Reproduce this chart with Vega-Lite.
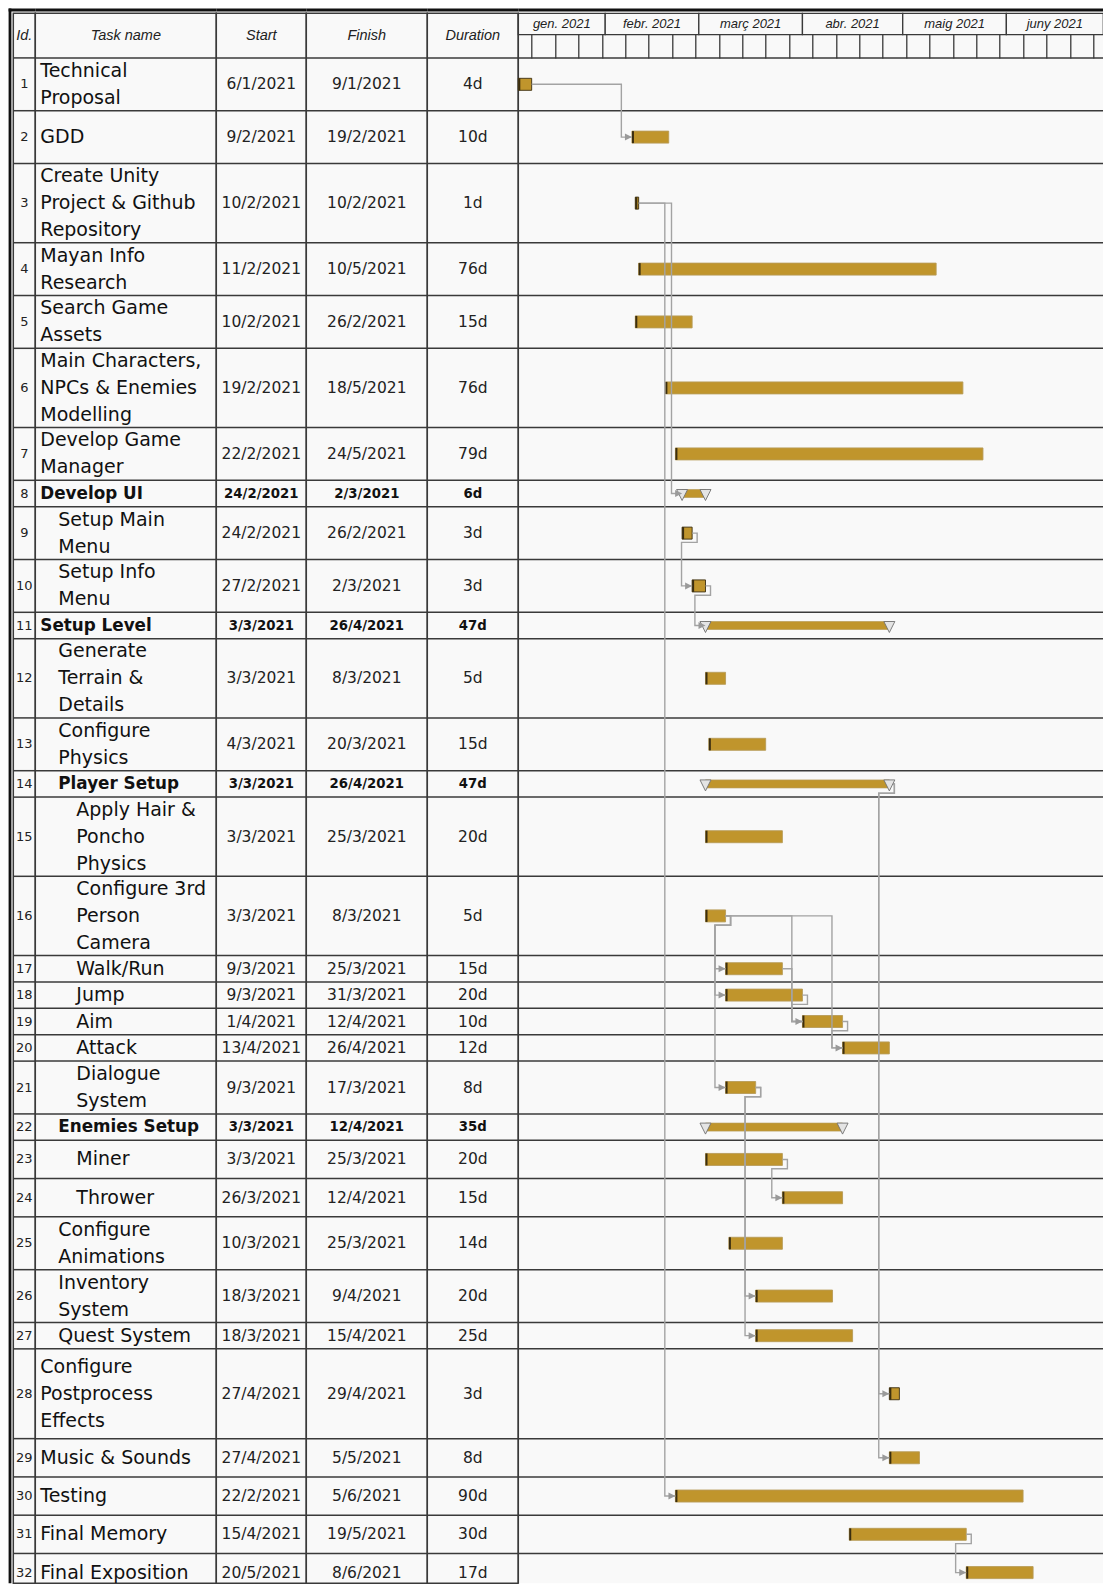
{
  "$schema": "https://vega.github.io/schema/vega-lite/v6.json",
  "background": "white",
  "padding": {"left": 7.3, "top": 7.3, "right": 0, "bottom": 0},
  "spacing": 0,
  "bounds": "flush",
  "config": {"view": {"stroke": "#3a3a3a", "strokeWidth": 1.5, "fill": "#f9f9f9"}, "scale": {"continuousPadding": 0}},
  "datasets": {
    "tasks": [
      {"id": 1, "name": "Technical\nProposal", "level": 0, "summary": false, "start": "2021-01-06", "finish": "2021-01-09", "dur": 4, "pred": null, "lines": 2},
      {"id": 2, "name": "GDD", "level": 0, "summary": false, "start": "2021-02-09", "finish": "2021-02-19", "dur": 10, "pred": "1", "lines": 2},
      {"id": 3, "name": "Create Unity\nProject & Github\nRepository", "level": 0, "summary": false, "start": "2021-02-10", "finish": "2021-02-10", "dur": 1, "pred": null, "lines": 3},
      {"id": 4, "name": "Mayan Info\nResearch", "level": 0, "summary": false, "start": "2021-02-11", "finish": "2021-05-10", "dur": 76, "pred": null, "lines": 2},
      {"id": 5, "name": "Search Game\nAssets", "level": 0, "summary": false, "start": "2021-02-10", "finish": "2021-02-26", "dur": 15, "pred": null, "lines": 2},
      {"id": 6, "name": "Main Characters,\nNPCs & Enemies\nModelling", "level": 0, "summary": false, "start": "2021-02-19", "finish": "2021-05-18", "dur": 76, "pred": null, "lines": 3},
      {"id": 7, "name": "Develop Game\nManager", "level": 0, "summary": false, "start": "2021-02-22", "finish": "2021-05-24", "dur": 79, "pred": null, "lines": 2},
      {"id": 8, "name": "Develop UI", "level": 0, "summary": true, "start": "2021-02-24", "finish": "2021-03-02", "dur": 6, "pred": "3", "lines": 1},
      {"id": 9, "name": "Setup Main\nMenu", "level": 1, "summary": false, "start": "2021-02-24", "finish": "2021-02-26", "dur": 3, "pred": null, "lines": 2},
      {"id": 10, "name": "Setup Info\nMenu", "level": 1, "summary": false, "start": "2021-02-27", "finish": "2021-03-02", "dur": 3, "pred": "9", "lines": 2},
      {"id": 11, "name": "Setup Level", "level": 0, "summary": true, "start": "2021-03-03", "finish": "2021-04-26", "dur": 47, "pred": "10", "lines": 1},
      {"id": 12, "name": "Generate\nTerrain &\nDetails", "level": 1, "summary": false, "start": "2021-03-03", "finish": "2021-03-08", "dur": 5, "pred": null, "lines": 3},
      {"id": 13, "name": "Configure\nPhysics", "level": 1, "summary": false, "start": "2021-03-04", "finish": "2021-03-20", "dur": 15, "pred": null, "lines": 2},
      {"id": 14, "name": "Player Setup", "level": 1, "summary": true, "start": "2021-03-03", "finish": "2021-04-26", "dur": 47, "pred": null, "lines": 1},
      {"id": 15, "name": "Apply Hair &\nPoncho\nPhysics", "level": 2, "summary": false, "start": "2021-03-03", "finish": "2021-03-25", "dur": 20, "pred": null, "lines": 3},
      {"id": 16, "name": "Configure 3rd\nPerson\nCamera", "level": 2, "summary": false, "start": "2021-03-03", "finish": "2021-03-08", "dur": 5, "pred": null, "lines": 3},
      {"id": 17, "name": "Walk/Run", "level": 2, "summary": false, "start": "2021-03-09", "finish": "2021-03-25", "dur": 15, "pred": "16", "lines": 1},
      {"id": 18, "name": "Jump", "level": 2, "summary": false, "start": "2021-03-09", "finish": "2021-03-31", "dur": 20, "pred": "16", "lines": 1},
      {"id": 19, "name": "Aim", "level": 2, "summary": false, "start": "2021-04-01", "finish": "2021-04-12", "dur": 10, "pred": "16,17,18", "lines": 1},
      {"id": 20, "name": "Attack", "level": 2, "summary": false, "start": "2021-04-13", "finish": "2021-04-26", "dur": 12, "pred": "16,19", "lines": 1},
      {"id": 21, "name": "Dialogue\nSystem", "level": 2, "summary": false, "start": "2021-03-09", "finish": "2021-03-17", "dur": 8, "pred": "16", "lines": 2},
      {"id": 22, "name": "Enemies Setup", "level": 1, "summary": true, "start": "2021-03-03", "finish": "2021-04-12", "dur": 35, "pred": null, "lines": 1},
      {"id": 23, "name": "Miner", "level": 2, "summary": false, "start": "2021-03-03", "finish": "2021-03-25", "dur": 20, "pred": null, "lines": 1.45},
      {"id": 24, "name": "Thrower", "level": 2, "summary": false, "start": "2021-03-26", "finish": "2021-04-12", "dur": 15, "pred": "23", "lines": 1.45},
      {"id": 25, "name": "Configure\nAnimations", "level": 1, "summary": false, "start": "2021-03-10", "finish": "2021-03-25", "dur": 14, "pred": null, "lines": 2},
      {"id": 26, "name": "Inventory\nSystem", "level": 1, "summary": false, "start": "2021-03-18", "finish": "2021-04-09", "dur": 20, "pred": "21", "lines": 2},
      {"id": 27, "name": "Quest System", "level": 1, "summary": false, "start": "2021-03-18", "finish": "2021-04-15", "dur": 25, "pred": "21", "lines": 1},
      {"id": 28, "name": "Configure\nPostprocess\nEffects", "level": 0, "summary": false, "start": "2021-04-27", "finish": "2021-04-29", "dur": 3, "pred": "14", "lines": 3.4},
      {"id": 29, "name": "Music & Sounds", "level": 0, "summary": false, "start": "2021-04-27", "finish": "2021-05-05", "dur": 8, "pred": "14", "lines": 1.45},
      {"id": 30, "name": "Testing", "level": 0, "summary": false, "start": "2021-02-22", "finish": "2021-06-05", "dur": 90, "pred": "3", "lines": 1.45},
      {"id": 31, "name": "Final Memory", "level": 0, "summary": false, "start": "2021-04-15", "finish": "2021-05-19", "dur": 30, "pred": null, "lines": 1.45},
      {"id": 32, "name": "Final Exposition", "level": 0, "summary": false, "start": "2021-05-20", "finish": "2021-06-08", "dur": 17, "pred": "31", "lines": 1.45}
    ],
    "months": [
      {"label": "gen. 2021", "start": "2021-01-01", "end": "2021-02-01"},
      {"label": "febr. 2021", "start": "2021-02-01", "end": "2021-03-01"},
      {"label": "març 2021", "start": "2021-03-01", "end": "2021-04-01"},
      {"label": "abr. 2021", "start": "2021-04-01", "end": "2021-05-01"},
      {"label": "maig 2021", "start": "2021-05-01", "end": "2021-06-01"},
      {"label": "juny 2021", "start": "2021-06-01", "end": "2021-07-01"}
    ]
  },
  "data": {"name": "tasks"},
  "transform": [
    {"window": [{"op": "sum", "field": "lines", "as": "cum"}], "sort": [{"field": "id"}], "frame": [null, 0]},
    {"calculate": "datum.cum - datum.lines", "as": "y0"},
    {"calculate": "datum.cum - datum.lines / 2", "as": "ym"},
    {"calculate": "toDate(datum.start)", "as": "s"},
    {"calculate": "toDate(datum.finish) + 864e5", "as": "e"},
    {"calculate": "utcFormat(toDate(datum.start), '%-d/%-m/%Y')", "as": "startTxt"},
    {"calculate": "utcFormat(toDate(datum.finish), '%-d/%-m/%Y')", "as": "finishTxt"},
    {"calculate": "datum.dur + 'd'", "as": "durTxt"}
  ],
  "hconcat": [
    {
      "width": 22, "height": 1570,
      "layer": [
        {"mark": {"type": "rule", "color": "#3a3a3a", "strokeWidth": 1.5},
         "encoding": {"y": {"field": "y0", "type": "quantitative", "scale": {"domain": [-1.69, 57.78], "reverse": true, "nice": false, "zero": false}, "axis": null}}},
        {"mark": {"type": "text", "font": "DejaVu Sans", "fontSize": 13, "color": "#222", "baseline": "middle"},
         "encoding": {"y": {"field": "ym", "type": "quantitative", "scale": {"domain": [-1.69, 57.78], "reverse": true, "nice": false, "zero": false}, "axis": null}, "text": {"field": "id", "type": "nominal"}}},
        {"data": {"values": [{"label": "Id."}]},
         "mark": {"type": "text", "font": "Liberation Sans", "fontStyle": "italic", "fontSize": 14.5, "color": "#222", "baseline": "middle"},
         "encoding": {"y": {"datum": -0.845, "type": "quantitative", "scale": {"domain": [-1.69, 57.78], "reverse": true, "nice": false, "zero": false}, "axis": null}, "text": {"field": "label", "type": "nominal"}}},
        {"data": {"values": [{}]},
         "mark": {"type": "rect", "color": "#111", "xOffset": -4.7, "x2Offset": -1.9, "yOffset": -4.7},
         "encoding": {"x": {"datum": 0, "type": "quantitative", "scale": {"domain": [0, 1], "nice": false, "zero": false}, "axis": null}, "x2": {"datum": 0},
                      "y": {"datum": -1.69, "type": "quantitative", "scale": {"domain": [-1.69, 57.78], "reverse": true, "nice": false, "zero": false}, "axis": null}, "y2": {"datum": 57.78}}},
        {"data": {"values": [{}]},
         "mark": {"type": "rect", "color": "#111", "xOffset": -4.7, "yOffset": -4.7, "y2Offset": -1.9},
         "encoding": {"x": {"datum": 0, "type": "quantitative", "scale": {"domain": [0, 1], "nice": false, "zero": false}, "axis": null}, "x2": {"datum": 1},
                      "y": {"datum": -1.69, "type": "quantitative", "scale": {"domain": [-1.69, 57.78], "reverse": true, "nice": false, "zero": false}, "axis": null}, "y2": {"datum": -1.69}}}
      ]
    },
    {
      "width": 181, "height": 1570,
      "layer": [
        {"mark": {"type": "rule", "color": "#3a3a3a", "strokeWidth": 1.5},
         "encoding": {"y": {"field": "y0", "type": "quantitative", "scale": {"domain": [-1.69, 57.78], "reverse": true, "nice": false, "zero": false}, "axis": null}}},
        {"transform": [{"filter": "!datum.summary"},
                       {"calculate": "length(split(datum.name, '\\n'))", "as": "nl"},
                       {"calculate": "datum.ym - (datum.nl - 1) * 27 / 26.4 / 2", "as": "ty"}],
         "mark": {"type": "text", "font": "DejaVu Sans", "fontSize": 19, "color": "#111", "align": "left", "baseline": "middle", "dx": 5, "lineBreak": "\n", "lineHeight": 27},
         "encoding": {"x": {"field": "level", "type": "quantitative", "scale": {"domain": [0, 10.056], "nice": false, "zero": false}, "axis": null},
                      "y": {"field": "ty", "type": "quantitative", "scale": {"domain": [-1.69, 57.78], "reverse": true, "nice": false, "zero": false}, "axis": null},
                      "text": {"field": "name", "type": "nominal"}}},
        {"transform": [{"filter": "datum.summary"}],
         "mark": {"type": "text", "font": "DejaVu Sans", "fontSize": 16.8, "fontWeight": "bold", "color": "#111", "align": "left", "baseline": "middle", "dx": 5},
         "encoding": {"x": {"field": "level", "type": "quantitative", "scale": {"domain": [0, 10.056], "nice": false, "zero": false}, "axis": null},
                      "y": {"field": "ym", "type": "quantitative", "scale": {"domain": [-1.69, 57.78], "reverse": true, "nice": false, "zero": false}, "axis": null},
                      "text": {"field": "name", "type": "nominal"}}},
        {"data": {"values": [{"label": "Task name"}]},
         "mark": {"type": "text", "font": "Liberation Sans", "fontStyle": "italic", "fontSize": 14.5, "color": "#222", "baseline": "middle"},
         "encoding": {"y": {"datum": -0.845, "type": "quantitative", "scale": {"domain": [-1.69, 57.78], "reverse": true, "nice": false, "zero": false}, "axis": null}, "text": {"field": "label", "type": "nominal"}}},
        {"data": {"values": [{}]},
         "mark": {"type": "rect", "color": "#111", "yOffset": -4.7, "y2Offset": -1.9},
         "encoding": {"y": {"datum": -1.69, "type": "quantitative", "scale": {"domain": [-1.69, 57.78], "reverse": true, "nice": false, "zero": false}, "axis": null}, "y2": {"datum": -1.69}}}
      ]
    },
    {
      "width": 90, "height": 1570,
      "layer": [
        {"mark": {"type": "rule", "color": "#3a3a3a", "strokeWidth": 1.5},
         "encoding": {"y": {"field": "y0", "type": "quantitative", "scale": {"domain": [-1.69, 57.78], "reverse": true, "nice": false, "zero": false}, "axis": null}}},
        {"transform": [{"filter": "!datum.summary"}],
         "mark": {"type": "text", "font": "DejaVu Sans", "fontSize": 15.5, "color": "#222", "baseline": "middle"},
         "encoding": {"y": {"field": "ym", "type": "quantitative", "scale": {"domain": [-1.69, 57.78], "reverse": true, "nice": false, "zero": false}, "axis": null}, "text": {"field": "startTxt", "type": "nominal"}}},
        {"transform": [{"filter": "datum.summary"}],
         "mark": {"type": "text", "font": "DejaVu Sans", "fontSize": 13.3, "fontWeight": "bold", "color": "#111", "baseline": "middle"},
         "encoding": {"y": {"field": "ym", "type": "quantitative", "scale": {"domain": [-1.69, 57.78], "reverse": true, "nice": false, "zero": false}, "axis": null}, "text": {"field": "startTxt", "type": "nominal"}}},
        {"data": {"values": [{"label": "Start"}]},
         "mark": {"type": "text", "font": "Liberation Sans", "fontStyle": "italic", "fontSize": 14.5, "color": "#222", "baseline": "middle"},
         "encoding": {"y": {"datum": -0.845, "type": "quantitative", "scale": {"domain": [-1.69, 57.78], "reverse": true, "nice": false, "zero": false}, "axis": null}, "text": {"field": "label", "type": "nominal"}}},
        {"data": {"values": [{}]},
         "mark": {"type": "rect", "color": "#111", "yOffset": -4.7, "y2Offset": -1.9},
         "encoding": {"y": {"datum": -1.69, "type": "quantitative", "scale": {"domain": [-1.69, 57.78], "reverse": true, "nice": false, "zero": false}, "axis": null}, "y2": {"datum": -1.69}}}
      ]
    },
    {
      "width": 121, "height": 1570,
      "layer": [
        {"mark": {"type": "rule", "color": "#3a3a3a", "strokeWidth": 1.5},
         "encoding": {"y": {"field": "y0", "type": "quantitative", "scale": {"domain": [-1.69, 57.78], "reverse": true, "nice": false, "zero": false}, "axis": null}}},
        {"transform": [{"filter": "!datum.summary"}],
         "mark": {"type": "text", "font": "DejaVu Sans", "fontSize": 15.5, "color": "#222", "baseline": "middle"},
         "encoding": {"y": {"field": "ym", "type": "quantitative", "scale": {"domain": [-1.69, 57.78], "reverse": true, "nice": false, "zero": false}, "axis": null}, "text": {"field": "finishTxt", "type": "nominal"}}},
        {"transform": [{"filter": "datum.summary"}],
         "mark": {"type": "text", "font": "DejaVu Sans", "fontSize": 13.3, "fontWeight": "bold", "color": "#111", "baseline": "middle"},
         "encoding": {"y": {"field": "ym", "type": "quantitative", "scale": {"domain": [-1.69, 57.78], "reverse": true, "nice": false, "zero": false}, "axis": null}, "text": {"field": "finishTxt", "type": "nominal"}}},
        {"data": {"values": [{"label": "Finish"}]},
         "mark": {"type": "text", "font": "Liberation Sans", "fontStyle": "italic", "fontSize": 14.5, "color": "#222", "baseline": "middle"},
         "encoding": {"y": {"datum": -0.845, "type": "quantitative", "scale": {"domain": [-1.69, 57.78], "reverse": true, "nice": false, "zero": false}, "axis": null}, "text": {"field": "label", "type": "nominal"}}},
        {"data": {"values": [{}]},
         "mark": {"type": "rect", "color": "#111", "yOffset": -4.7, "y2Offset": -1.9},
         "encoding": {"y": {"datum": -1.69, "type": "quantitative", "scale": {"domain": [-1.69, 57.78], "reverse": true, "nice": false, "zero": false}, "axis": null}, "y2": {"datum": -1.69}}}
      ]
    },
    {
      "width": 91, "height": 1570,
      "layer": [
        {"mark": {"type": "rule", "color": "#3a3a3a", "strokeWidth": 1.5},
         "encoding": {"y": {"field": "y0", "type": "quantitative", "scale": {"domain": [-1.69, 57.78], "reverse": true, "nice": false, "zero": false}, "axis": null}}},
        {"transform": [{"filter": "!datum.summary"}],
         "mark": {"type": "text", "font": "DejaVu Sans", "fontSize": 15.5, "color": "#222", "baseline": "middle"},
         "encoding": {"y": {"field": "ym", "type": "quantitative", "scale": {"domain": [-1.69, 57.78], "reverse": true, "nice": false, "zero": false}, "axis": null}, "text": {"field": "durTxt", "type": "nominal"}}},
        {"transform": [{"filter": "datum.summary"}],
         "mark": {"type": "text", "font": "DejaVu Sans", "fontSize": 13.3, "fontWeight": "bold", "color": "#111", "baseline": "middle"},
         "encoding": {"y": {"field": "ym", "type": "quantitative", "scale": {"domain": [-1.69, 57.78], "reverse": true, "nice": false, "zero": false}, "axis": null}, "text": {"field": "durTxt", "type": "nominal"}}},
        {"data": {"values": [{"label": "Duration"}]},
         "mark": {"type": "text", "font": "Liberation Sans", "fontStyle": "italic", "fontSize": 14.5, "color": "#222", "baseline": "middle"},
         "encoding": {"y": {"datum": -0.845, "type": "quantitative", "scale": {"domain": [-1.69, 57.78], "reverse": true, "nice": false, "zero": false}, "axis": null}, "text": {"field": "label", "type": "nominal"}}},
        {"data": {"values": [{}]},
         "mark": {"type": "rect", "color": "#111", "yOffset": -4.7, "y2Offset": -1.9},
         "encoding": {"y": {"datum": -1.69, "type": "quantitative", "scale": {"domain": [-1.69, 57.78], "reverse": true, "nice": false, "zero": false}, "axis": null}, "y2": {"datum": -1.69}}}
      ]
    },
    {
      "width": 585, "height": 1570,
      "view": {"stroke": null, "fill": "#f9f9f9"},
      "layer": [
        {"data": {"name": "months"},
         "transform": [
           {"calculate": "max(toDate(datum.start), utc(2021, 0, 6))", "as": "ms"},
           {"calculate": "min(toDate(datum.end), utc(2021, 5, 30))", "as": "me"},
           {"calculate": "(datum.ms + datum.me) / 2", "as": "mid"}
         ],
         "mark": {"type": "rect", "fill": "#f9f9f9", "stroke": "#3a3a3a", "strokeWidth": 1.3},
         "encoding": {
           "x": {"field": "ms", "type": "temporal", "scale": {"type": "utc", "nice": false, "padding": 0, "domain": [{"year": 2021, "month": 1, "date": 6, "utc": true}, {"year": 2021, "month": 6, "date": 30, "utc": true}]},
                 "axis": {"orient": "bottom", "offset": -1548.7, "domain": false, "labels": false, "ticks": true, "tickSize": 23.3, "tickColor": "#3a3a3a", "tickWidth": 1.3, "tickCount": {"interval": "week"}, "grid": false, "title": null}},
           "x2": {"field": "me"},
           "y": {"datum": -1.69, "type": "quantitative", "scale": {"domain": [-1.69, 57.78], "reverse": true, "nice": false, "zero": false, "padding": 0}, "axis": null},
           "y2": {"datum": -0.883}}},
        {"data": {"name": "months"},
         "transform": [
           {"calculate": "max(toDate(datum.start), utc(2021, 0, 6))", "as": "ms"},
           {"calculate": "min(toDate(datum.end), utc(2021, 5, 30))", "as": "me"},
           {"calculate": "(datum.ms + datum.me) / 2", "as": "mid"}
         ],
         "mark": {"type": "text", "font": "Liberation Sans", "fontStyle": "italic", "fontSize": 13, "color": "#222", "baseline": "middle"},
         "encoding": {
           "x": {"field": "mid", "type": "temporal", "scale": {"type": "utc", "nice": false, "padding": 0, "domain": [{"year": 2021, "month": 1, "date": 6, "utc": true}, {"year": 2021, "month": 6, "date": 30, "utc": true}]}},
           "y": {"datum": -1.2865, "type": "quantitative", "scale": {"domain": [-1.69, 57.78], "reverse": true, "nice": false, "zero": false, "padding": 0}, "axis": null},
           "text": {"field": "label", "type": "nominal"}}},
        {"mark": {"type": "rule", "color": "#3a3a3a", "strokeWidth": 1.5},
         "encoding": {"y": {"field": "y0", "type": "quantitative", "scale": {"domain": [-1.69, 57.78], "reverse": true, "nice": false, "zero": false, "padding": 0}, "axis": null}}},
        {"data": {"values": [{}]},
         "mark": {"type": "rule", "color": "#3a3a3a", "strokeWidth": 1.5},
         "encoding": {"x": {"datum": {"year": 2021, "month": 1, "date": 6, "utc": true}, "type": "temporal", "scale": {"type": "utc", "nice": false, "padding": 0, "domain": [{"year": 2021, "month": 1, "date": 6, "utc": true}, {"year": 2021, "month": 6, "date": 30, "utc": true}]}}}},
        {"transform": [{"filter": "!datum.summary"}],
         "mark": {"type": "bar", "height": 12, "fill": "#c0952c", "strokeWidth": 0.9, "cornerRadius": 0},
         "encoding": {
           "x": {"field": "s", "type": "temporal", "scale": {"type": "utc", "nice": false, "padding": 0, "domain": [{"year": 2021, "month": 1, "date": 6, "utc": true}, {"year": 2021, "month": 6, "date": 30, "utc": true}]}},
           "x2": {"field": "e"},
           "y": {"field": "ym", "type": "quantitative", "scale": {"domain": [-1.69, 57.78], "reverse": true, "nice": false, "zero": false, "padding": 0}, "axis": null},
           "stroke": {"condition": {"test": "datum.dur <= 4", "value": "#3b2e10"}, "value": "#b89c58"}}},
        {"transform": [{"filter": "datum.summary"}],
         "mark": {"type": "bar", "height": 8, "fill": "#c0952c", "stroke": "#b89c58", "strokeWidth": 0.7},
         "encoding": {
           "x": {"field": "s", "type": "temporal", "scale": {"type": "utc", "nice": false, "padding": 0, "domain": [{"year": 2021, "month": 1, "date": 6, "utc": true}, {"year": 2021, "month": 6, "date": 30, "utc": true}]}},
           "x2": {"field": "e"},
           "y": {"field": "ym", "type": "quantitative", "scale": {"domain": [-1.69, 57.78], "reverse": true, "nice": false, "zero": false, "padding": 0}, "axis": null}}},
        {"transform": [{"filter": "!datum.summary"}],
         "mark": {"type": "tick", "orient": "vertical", "thickness": 2, "size": 12, "color": "#3b2e10", "xOffset": 1, "opacity": 1},
         "encoding": {
           "x": {"field": "s", "type": "temporal", "scale": {"type": "utc", "nice": false, "padding": 0, "domain": [{"year": 2021, "month": 1, "date": 6, "utc": true}, {"year": 2021, "month": 6, "date": 30, "utc": true}]}},
           "y": {"field": "ym", "type": "quantitative", "scale": {"domain": [-1.69, 57.78], "reverse": true, "nice": false, "zero": false, "padding": 0}, "axis": null}}},
        {"transform": [
           {"calculate": "split(datum.id + (datum.pred ? ',' + datum.pred : ''), ',')", "as": "refs"},
           {"flatten": ["refs"], "as": ["ref"]},
           {"calculate": "toNumber(datum.ref) === datum.id", "as": "isSelf"},
           {"calculate": "datum.isSelf ? datum.e : null", "as": "selfE"},
           {"calculate": "datum.isSelf ? datum.ym : null", "as": "selfY"},
           {"joinaggregate": [{"op": "max", "field": "selfE", "as": "pE"}, {"op": "max", "field": "selfY", "as": "pY"}], "groupby": ["ref"]},
           {"filter": "!datum.isSelf"},
           {"calculate": "datum.s - 3.17 * 864e5", "as": "vx"},
           {"calculate": "datum.vx < datum.pE + 1.5 * 864e5 ? [{i: 0, x: datum.pE, y: datum.pY}, {i: 1, x: datum.pE + 1.5 * 864e5, y: datum.pY}, {i: 2, x: datum.pE + 1.5 * 864e5, y: datum.pY + 0.352}, {i: 3, x: datum.vx, y: datum.pY + 0.352}, {i: 4, x: datum.vx, y: datum.ym}, {i: 5, x: datum.s, y: datum.ym}] : [{i: 0, x: datum.pE, y: datum.pY}, {i: 1, x: datum.vx, y: datum.pY}, {i: 2, x: datum.vx, y: datum.ym}, {i: 3, x: datum.s, y: datum.ym}]", "as": "pts"},
           {"calculate": "datum.ref + '-' + datum.id", "as": "link"},
           {"flatten": ["pts"], "as": ["pt"]},
           {"calculate": "datum.pt.x", "as": "px"},
           {"calculate": "datum.pt.y", "as": "py"},
           {"calculate": "datum.pt.i", "as": "pi"}
         ],
         "mark": {"type": "line", "color": "#a3a3a3", "strokeWidth": 1.4, "interpolate": "linear"},
         "encoding": {
           "x": {"field": "px", "type": "temporal", "scale": {"type": "utc", "nice": false, "padding": 0, "domain": [{"year": 2021, "month": 1, "date": 6, "utc": true}, {"year": 2021, "month": 6, "date": 30, "utc": true}]}},
           "y": {"field": "py", "type": "quantitative", "scale": {"domain": [-1.69, 57.78], "reverse": true, "nice": false, "zero": false, "padding": 0}, "axis": null},
           "detail": {"field": "link", "type": "nominal"},
           "order": {"field": "pi", "type": "quantitative"}}},
        {"transform": [{"filter": "datum.summary"}],
         "mark": {"type": "point", "shape": "M-1,-1L1,-1L0,1Z", "size": 121, "filled": true, "fill": "#e4e4e4", "stroke": "#707070", "strokeWidth": 0.9, "opacity": 1, "yOffset": 1.5},
         "encoding": {
           "x": {"field": "s", "type": "temporal", "scale": {"type": "utc", "nice": false, "padding": 0, "domain": [{"year": 2021, "month": 1, "date": 6, "utc": true}, {"year": 2021, "month": 6, "date": 30, "utc": true}]}},
           "y": {"field": "ym", "type": "quantitative", "scale": {"domain": [-1.69, 57.78], "reverse": true, "nice": false, "zero": false, "padding": 0}, "axis": null}}},
        {"transform": [{"filter": "datum.summary"}],
         "mark": {"type": "point", "shape": "M-1,-1L1,-1L0,1Z", "size": 121, "filled": true, "fill": "#e4e4e4", "stroke": "#707070", "strokeWidth": 0.9, "opacity": 1, "yOffset": 1.5},
         "encoding": {
           "x": {"field": "e", "type": "temporal", "scale": {"type": "utc", "nice": false, "padding": 0, "domain": [{"year": 2021, "month": 1, "date": 6, "utc": true}, {"year": 2021, "month": 6, "date": 30, "utc": true}]}},
           "y": {"field": "ym", "type": "quantitative", "scale": {"domain": [-1.69, 57.78], "reverse": true, "nice": false, "zero": false, "padding": 0}, "axis": null}}},
        {"transform": [{"filter": "datum.pred != null"}],
         "mark": {"type": "point", "shape": "M-1,-1L1,0L-1,1Z", "size": 49, "filled": true, "fill": "#9a9a9a", "opacity": 1, "xOffset": -3.5},
         "encoding": {
           "x": {"field": "s", "type": "temporal", "scale": {"type": "utc", "nice": false, "padding": 0, "domain": [{"year": 2021, "month": 1, "date": 6, "utc": true}, {"year": 2021, "month": 6, "date": 30, "utc": true}]}},
           "y": {"field": "ym", "type": "quantitative", "scale": {"domain": [-1.69, 57.78], "reverse": true, "nice": false, "zero": false, "padding": 0}, "axis": null}}},
        {"data": {"values": [{}]},
         "mark": {"type": "rect", "color": "#111", "yOffset": -4.7, "y2Offset": -1.9},
         "encoding": {"y": {"datum": -1.69, "type": "quantitative", "scale": {"domain": [-1.69, 57.78], "reverse": true, "nice": false, "zero": false, "padding": 0}, "axis": null}, "y2": {"datum": -1.69}}}
      ]
    }
  ]
}
